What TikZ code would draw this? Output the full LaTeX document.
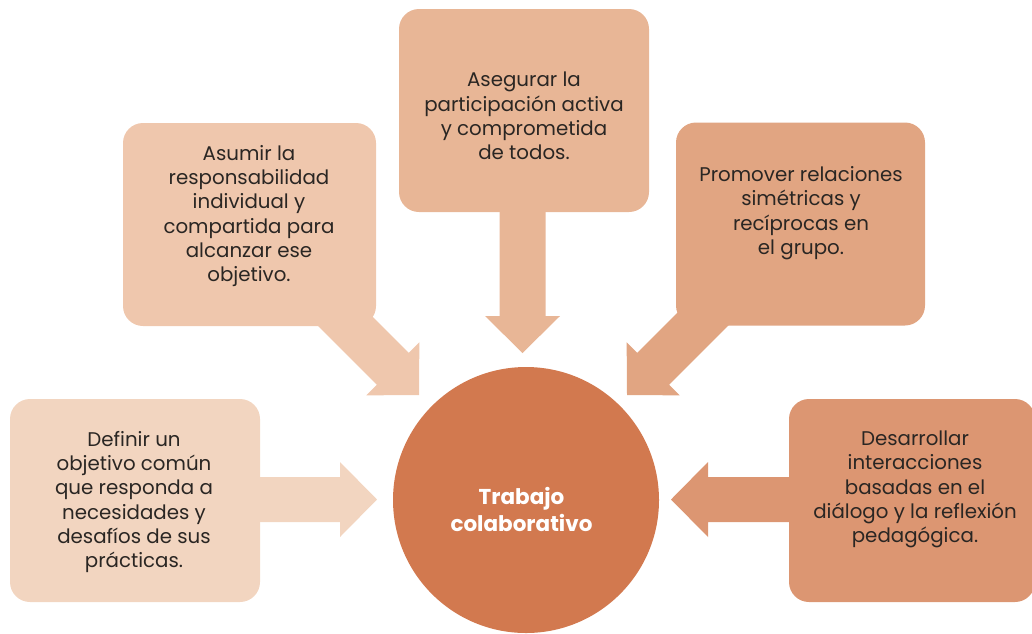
\documentclass[tikz,border=0pt]{standalone}
\usepackage{fontspec}
\setmainfont{Poppins}
\definecolor{cA}{HTML}{F2D5C0}
\definecolor{cB}{HTML}{EFC7AD}
\definecolor{cC}{HTML}{E8B696}
\definecolor{cD}{HTML}{E1A582}
\definecolor{cE}{HTML}{DC9672}
\definecolor{cF}{HTML}{D2794F}
\definecolor{txtc}{HTML}{2A2623}
\begin{document}
\begin{tikzpicture}[x=1pt,y=-1pt,
  box/.style={rounded corners=20pt, inner sep=0pt, minimum height=203pt},
  txt/.style={align=center, font=\fontsize{19.8}{24.3}\selectfont, text=txtc, inner sep=0pt},
  ctxt/.style={align=center, font=\fontsize{21.5}{27}\selectfont\bfseries, text=white, inner sep=0pt}]
\useasboundingbox (0,0) rectangle (1032,633);
% arrows (drawn first, boxes cover their tails)
\fill[cA, shift={(377,499.5)}] (0,0) -- (-37,37.5) -- (-37,22.5) -- (-130,22.5) -- (-130,-22.5) -- (-37,-22.5) -- (-37,-37.5) -- cycle;
\fill[cB, shift={(419,395)}, rotate=-45] (0,0) -- (-37,37.5) -- (-37,22.5) -- (-160,22.5) -- (-160,-22.5) -- (-37,-22.5) -- (-37,-37.5) -- cycle;
\fill[cC, shift={(522.5,353)}, rotate=-90] (0,0) -- (-37,37.5) -- (-37,23) -- (-160,23) -- (-160,-23) -- (-37,-23) -- (-37,-37.5) -- cycle;
\fill[cD, shift={(627,395)}, rotate=-135] (0,0) -- (-37,37.5) -- (-37,22.5) -- (-160,22.5) -- (-160,-22.5) -- (-37,-22.5) -- (-37,-37.5) -- cycle;
\fill[cE, shift={(671,499.5)}, rotate=180] (0,0) -- (-37,37.5) -- (-37,22.5) -- (-130,22.5) -- (-130,-22.5) -- (-37,-22.5) -- (-37,-37.5) -- cycle;
% boxes
\node[box, fill=cA, minimum width=250pt] (b1) at (135,500.5) {};
\node[box, fill=cB, minimum width=253pt] (b2) at (249.5,224.5) {};
\node[box, fill=cC, minimum width=250pt] (b3) at (524,110.5) {};
\node[box, fill=cD, minimum width=249pt] (b4) at (800.5,224) {};
\node[box, fill=cE, minimum width=246pt] (b5) at (912,500.5) {};
\node[circle, fill=cF, minimum size=266pt, inner sep=0pt] (c) at (526,500) {};
% texts
\node[txt] (t1) at (134,502) {Definir un\\objetivo común\\que responda a\\necesidades y\\desafíos de sus\\prácticas.};
\node[txt] (t2) at (249,216) {Asumir la\\responsabilidad\\individual y\\compartida para\\alcanzar ese\\objetivo.};
\node[txt] (t3) at (524,116) {Asegurar la\\participación activa\\y comprometida\\de todos.};
\node[txt] (t4) at (801,213) {Promover relaciones\\simétricas y\\recíprocas en\\el grupo.};
\node[txt] (t5) at (915,489.5) {Desarrollar\\interacciones\\basadas en el\\diálogo y la reflexión\\pedagógica.};
\node[ctxt] (tc) at (521.5,509) {Trabajo\\colaborativo};
\end{tikzpicture}
\end{document}
